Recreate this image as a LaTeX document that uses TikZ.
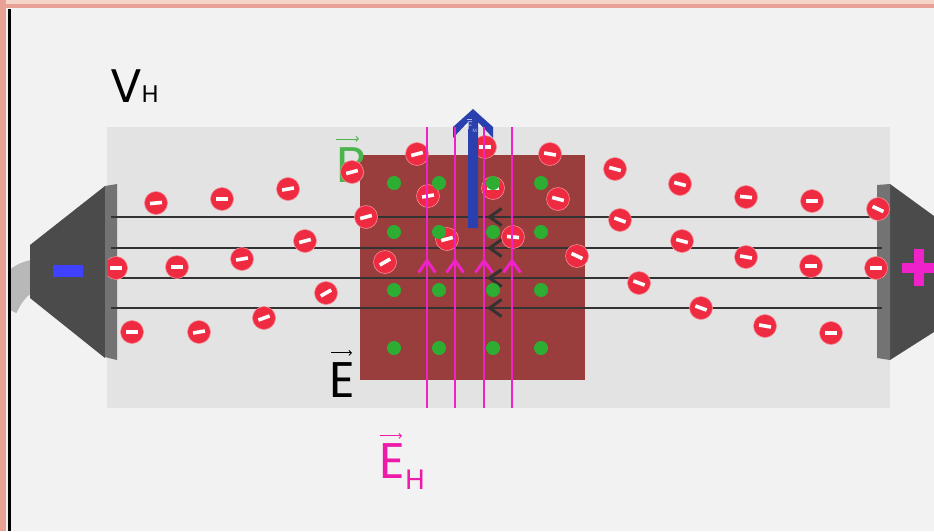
\documentclass[tikz,border=0pt]{standalone}
\usepackage{fontspec}
\setmainfont{Poppins}
\usetikzlibrary{arrows.meta,positioning}
\definecolor{paper}{HTML}{F2F2F2}
\definecolor{slab}{HTML}{E3E3E3}
\definecolor{probe}{HTML}{993D3D}
\definecolor{elecred}{HTML}{EE2B40}
\definecolor{bgreen}{HTML}{2DAE32}
\definecolor{blabel}{HTML}{4DB34F}
\definecolor{hall}{HTML}{EE22C8}
\definecolor{hlabel}{HTML}{EE1AAA}
\definecolor{fblue}{HTML}{2A40AE}
\definecolor{plate}{HTML}{4B4B4B}
\definecolor{platefront}{HTML}{737373}
\definecolor{salmon}{HTML}{E9A196}
\definecolor{peach}{HTML}{F3D6C8}

\begin{document}
\begin{tikzpicture}[x=1pt,y=-1pt,
   electron/.style={circle,fill=elecred,draw=elecred!55!white,line width=0.6pt,
                    minimum size=23pt,inner sep=0pt},
   minusbar/.style={white,line width=3.6pt},
   bdot/.style={circle,fill=bgreen,minimum size=14pt,inner sep=0pt},
   wire/.style={black!80,line width=2.2pt},
   hline/.style={hall,line width=2pt},
   chevron/.style={-{Straight Barb[length=12pt,width=17pt,line width=3pt]}},
   lbl/.style={inner sep=0pt,anchor=base west},
   vecarr/.style={-{Straight Barb[length=2.5pt,width=5pt]},line width=0.9pt}]
  \useasboundingbox (0,0) rectangle (934,531);
  \fill[paper] (0,0) rectangle (934,531);

  % frame
  \fill[peach] (0,0) rectangle (934,4);
  \fill[salmon] (0,4) rectangle (934,8);
  \fill[salmon] (0,0) rectangle (6,531);
  \fill[black] (8,9) rectangle (11,531);

  % conductor
  \fill[slab] (107,127) rectangle (890,408);

  % cable and negative plate
  \begin{scope}
    \clip (11,9) rectangle (40,531);
    \draw[line width=32pt,black!28] (42,275) .. controls (24,275) and (12,285) .. (2,306);
  \end{scope}
  \fill[plate] (30,245) -- (105,186) -- (105,358) -- (30,298) -- cycle;
  \fill[platefront] (105,186) -- (117,184) -- (117,360) -- (105,357) -- cycle;
  \fill[blue!75!white] (53,265) rectangle (83,277);

  % positive plate
  \fill[plate] (890,184) -- (934,216) -- (934,332) -- (890,360) -- cycle;
  \fill[platefront] (877,185) -- (890,184) -- (890,360) -- (877,358) -- cycle;
  \fill[hall] (902,263) rectangle (934,273);
  \fill[hall] (914,249) rectangle (924,286);

  % probe region
  \fill[probe] (360,155) rectangle (585,380);

  % vector labels
  \node[lbl,font=\fontsize{47}{47}\selectfont] (vh) at (110,102)
    {V{\fontsize{24}{24}\selectfont H}};
  \node[lbl,font=\fontsize{50}{50}\selectfont,text=blabel] (bvec) at (336,182) {B};
  \draw[vecarr,blabel] ([yshift=8pt]bvec.north west) -- +(23,0);
  \node[lbl,font=\fontsize{50}{50}\selectfont] (evec) at (329,397) {E};
  \draw[vecarr,black] ([shift={(2pt,9pt)}]evec.north west) -- +(21,0);
  \node[lbl,font=\fontsize{50}{50}\selectfont,text=hlabel] (ehvec) at (379,478) {E};
  \node[lbl,font=\fontsize{28}{28}\selectfont,text=hlabel,right=0pt of ehvec.base east,
        anchor=base west,yshift=-11pt] (ehsub) {H};
  \draw[vecarr,hlabel] ([shift={(1pt,7pt)}]ehvec.north west) -- +(22,0);

  % electron current lines
  \foreach \y in {217,248,278,308} {
    \draw[wire,chevron] (882,\y) -- (487,\y);
    \draw[wire] (490,\y) -- (111,\y);
  }

  % electrons
  \begin{scope}
    \clip (108,127) rectangle (890,408);
    \foreach \x/\y/\a [count=\i] in {156/203/5, 222/199/0, 288/189/10, 352/172/15,
        366/217/15, 305/241/15, 242/259/10, 177/267/0, 116/268/0, 326/293/30,
        264/318/20, 199/332/10, 132/332/0, 417/154/15, 428/196/10, 447/239/15,
        385/262/30, 485/147/0, 493/188/0, 550/154/-10, 558/199/-15, 513/237/-5,
        577/256/-25, 615/169/-15, 680/184/-15, 746/197/-5, 812/201/0, 878/209/-25,
        620/220/-20, 682/241/-15, 746/257/-10, 811/266/0, 876/268/0, 639/283/-20,
        701/308/-20, 765/326/-10, 831/333/0} {
      \node[electron] (e\i) at (\x,\y) {};
      \draw[minusbar] ([shift={(\a:-6pt)}]e\i.center) -- ([shift={(\a:6pt)}]e\i.center);
    }
  \end{scope}

  % magnetic field out of the page
  \foreach \x in {394,439,493,541}
    \foreach \y in {183,232,290,348}
      \node[bdot] (b-\x-\y) at (\x,\y) {};

  % magnetic force
  \fill[fblue] (468,228) -- (468,122) -- (453,138) -- (453,127) -- (473,109)
    -- (493,127) -- (493,138) -- (478,122) -- (478,228) -- cycle;
  \node[inner sep=0pt,text=fblue!35!white,font=\fontsize{11}{11}\selectfont] (fm) at (472,127)
    {F\raisebox{-3pt}{\fontsize{5}{5}\selectfont M}};
  \draw[fblue!35!white,line width=0.5pt] ([yshift=2pt]fm.north west) -- ([yshift=2pt]fm.north);

  % Hall field
  \foreach \x in {427,455,484,512} {
    \draw[hline,chevron] (\x,408) -- (\x,258);
    \draw[hline] (\x,260) -- (\x,127);
  }
\end{tikzpicture}
\end{document}
